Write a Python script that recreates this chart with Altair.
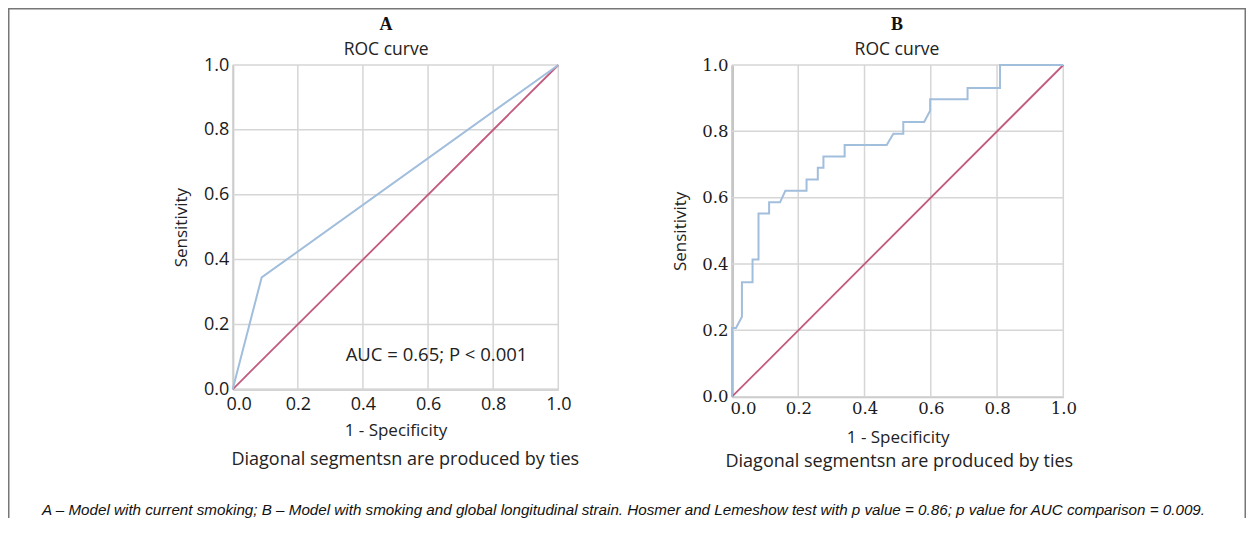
import altair as alt
import pandas as pd

# ---- data ----
TICKS = [0.0, 0.2, 0.4, 0.6, 0.8, 1.0]
DIAG = [0.0, 1.0]

A_FPR = [0.0, 0.089, 1.0]
A_TPR = [0.0, 0.345, 1.0]

B_FPR = [0.0, 0.0, 0.012, 0.030, 0.030, 0.062, 0.062, 0.080, 0.080, 0.112, 0.112,
         0.145, 0.161, 0.225, 0.225, 0.259, 0.259, 0.276, 0.276, 0.340, 0.340,
         0.467, 0.487, 0.517, 0.517, 0.580, 0.598, 0.598, 0.711, 0.711, 0.809,
         0.809, 1.0]
B_TPR = [0.0, 0.207, 0.207, 0.241, 0.345, 0.345, 0.414, 0.414, 0.552, 0.552, 0.586,
         0.586, 0.621, 0.621, 0.655, 0.655, 0.690, 0.690, 0.724, 0.724, 0.759,
         0.759, 0.793, 0.793, 0.828, 0.828, 0.862, 0.897, 0.897, 0.931, 0.931,
         1.0, 1.0]

AUC_TEXT = "AUC = 0.65; P < 0.001"
NOTE = "Diagonal segmentsn are produced by ties"
FOOT = ("A \u2013 Model with current smoking; B \u2013 Model with smoking and global "
        "longitudinal strain. Hosmer and Lemeshow test with p value = 0.86; "
        "p value for AUC comparison = 0.009.")

W, H = 1238, 510
SANS = "Open Sans"
BLUE = "#a2bedd"
RED = "#c25a7c"
GRID = "#d6d6d6"


def panel(fpr, tpr, xr, yr, label_font, label_size, left_dom_color, letter,
          letter_x, note_x, note_y, ylab_pad, xlab_pad, ytitle_x, first_shift,
          extra=None):
    xs = alt.Scale(domain=[0, 1], range=xr, nice=False, zero=False)
    ys = alt.Scale(domain=[0, 1], range=yr, nice=False, zero=False)
    ax_x = alt.Axis(
        orient="bottom", offset=yr[0] - H, values=TICKS, format=".1f",
        grid=False, ticks=False, tickSize=0, labelFlush=False,
        labelOffset=alt.condition("datum.value == 0", alt.value(first_shift), alt.value(0)),
        labelFont=label_font, labelFontSize=label_size, labelColor="#1a1a1a",
        labelPadding=xlab_pad, domainColor="#c4c4c4", domainWidth=2,
        title="1 - Specificity", titleFont=SANS, titleFontSize=17,
        titleFontWeight="normal", titleColor="#222", titleY=41,
        titleBaseline="middle")
    ax_y = alt.Axis(
        orient="left", offset=-xr[0], values=TICKS, format=".1f",
        grid=False, ticks=False, tickSize=0, labelFlush=False,
        labelFont=label_font, labelFontSize=label_size, labelColor="#1a1a1a",
        labelPadding=ylab_pad, domainColor=left_dom_color, domainWidth=2.2,
        title="Sensitivity", titleFont=SANS, titleFontSize=17,
        titleFontWeight="normal", titleColor="#222", titleX=ytitle_x,
        titleBaseline="middle")

    curve_df = pd.DataFrame({"x": fpr, "y": tpr, "i": list(range(len(fpr)))})
    diag_df = pd.DataFrame({"x": DIAG, "y": DIAG})
    tick_df = pd.DataFrame({"t": TICKS, "lo": [0.0] * len(TICKS), "hi": [1.0] * len(TICKS)})

    vgrid = alt.Chart(tick_df).mark_rule(color=GRID, strokeWidth=1.5).encode(
        x=alt.X("t:Q", scale=xs, axis=ax_x),
        y=alt.Y("lo:Q", scale=ys, axis=ax_y), y2="hi:Q")
    hgrid = alt.Chart(tick_df).mark_rule(color=GRID, strokeWidth=1.5).encode(
        y=alt.Y("t:Q", scale=ys, axis=ax_y),
        x=alt.X("lo:Q", scale=xs, axis=ax_x), x2="hi:Q")
    diag = alt.Chart(diag_df).mark_line(color=RED, strokeWidth=1.8).encode(
        x=alt.X("x:Q", scale=xs, axis=ax_x), y=alt.Y("y:Q", scale=ys, axis=ax_y))
    curve = alt.Chart(curve_df).mark_line(color=BLUE, strokeWidth=2).encode(
        x=alt.X("x:Q", scale=xs, axis=ax_x),
        y=alt.Y("y:Q", scale=ys, axis=ax_y),
        order="i:Q")

    head_df = pd.DataFrame({"x": [letter_x], "l": [letter], "s": ["ROC curve"]})
    letter_mark = alt.Chart(head_df).mark_text(
        font="Liberation Serif", fontSize=18, fontWeight="bold", color="#111",
        baseline="middle", align="center").encode(
        x=alt.X("x:Q", scale=xs, axis=ax_x), y=alt.value(17), text="l:N")
    sub_mark = alt.Chart(head_df).mark_text(
        font=SANS, fontSize=17.5, color="#222", baseline="middle",
        align="center").encode(
        x=alt.X("x:Q", scale=xs, axis=ax_x), y=alt.value(42), text="s:N")
    note_df = pd.DataFrame({"x": [note_x], "n": [NOTE]})
    note_mark = alt.Chart(note_df).mark_text(
        font=SANS, fontSize=18, color="#222", baseline="middle",
        align="center").encode(
        x=alt.X("x:Q", scale=xs, axis=ax_x), y=alt.value(note_y), text="n:N")

    layers = [vgrid, hgrid, diag, curve, letter_mark, sub_mark, note_mark]
    if extra is not None:
        layers.append(extra(xs, ys, ax_x, ax_y))
    return alt.layer(*layers)


def auc_layer(xs, ys, ax_x, ax_y):
    df = pd.DataFrame({"x": [0.626], "y": [0.105], "t": [AUC_TEXT]})
    return alt.Chart(df).mark_text(font=SANS, fontSize=18.5, color="#222",
                                   baseline="middle", align="center").encode(
        x=alt.X("x:Q", scale=xs, axis=ax_x), y=alt.Y("y:Q", scale=ys, axis=ax_y),
        text="t:N")


panel_a = panel(A_FPR, A_TPR, [224.7, 550.3], [381.3, 57.0], SANS, 18, "#c4c4c4",
                "A", 0.471, 0.53, 452, 4, 6, -51, 6, extra=auc_layer)
panel_b = panel(B_FPR, B_TPR, [724.0, 1055.3], [388.7, 57.0], "DejaVu Serif", 16.5,
                "#9c9c9c", "B", 0.498, 0.505, 454, 4, 4, -52, 11)

border_df = pd.DataFrame({"f": [FOOT]})
border_l = alt.Chart(border_df).mark_rule(color="#777", strokeWidth=1.5).encode(
    x=alt.value(0.75), y=alt.value(0), y2=alt.value(H))
border_r = alt.Chart(border_df).mark_rule(color="#777", strokeWidth=1.5).encode(
    x=alt.value(W - 0.75), y=alt.value(0), y2=alt.value(H))
border_t = alt.Chart(border_df).mark_rule(color="#777", strokeWidth=1.5).encode(
    y=alt.value(0.75), x=alt.value(0), x2=alt.value(W))
foot = alt.Chart(border_df).mark_text(
    font="Liberation Sans", fontStyle="italic", fontSize=15.2, color="#111",
    baseline="middle", align="center").encode(
    x=alt.value(615.5), y=alt.value(502), text="f:N")

chart = alt.layer(border_l, border_r, border_t, foot, panel_a, panel_b).resolve_scale(
    x="independent", y="independent").properties(
    width=W, height=H, padding=0, autosize=alt.AutoSizeParams(type="none"),
    background="white").configure_view(stroke=None)

chart.save("out.html", embed_options={"renderer": "svg", "actions": False})
